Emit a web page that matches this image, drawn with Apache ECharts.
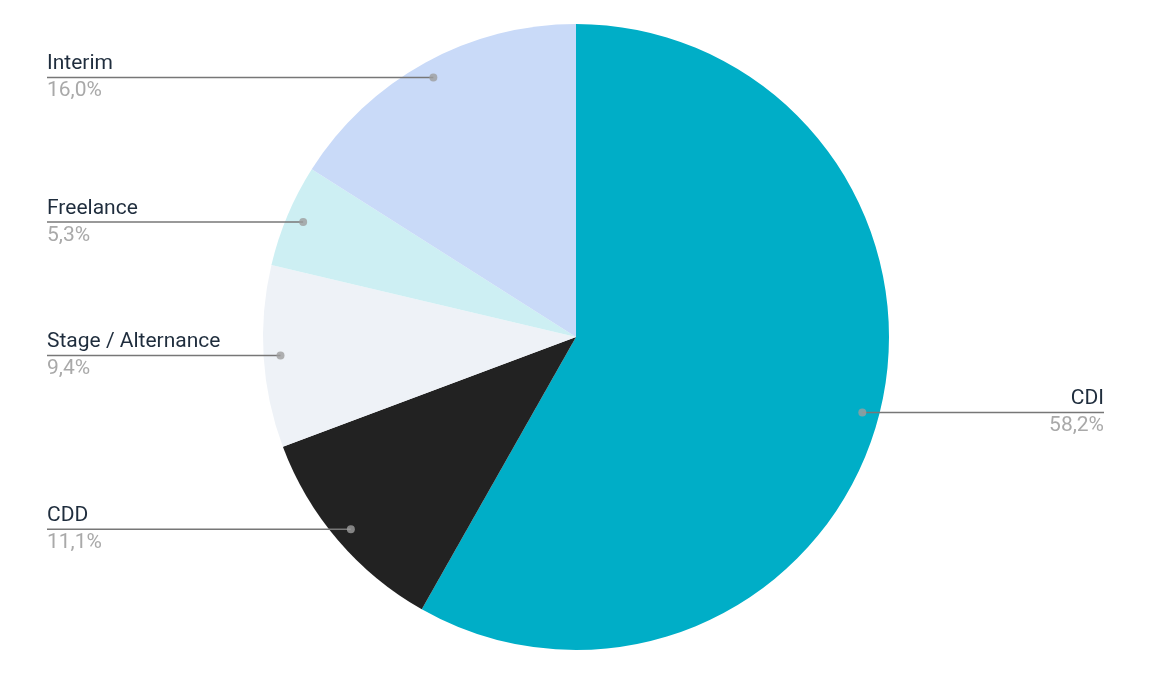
<!DOCTYPE html>
<html>
<head>
<meta charset="utf-8">
<script src="https://cdn.jsdelivr.net/npm/echarts@6/dist/echarts.min.js"></script>
<style>html,body{margin:0;padding:0;background:#fff}#c{width:1156px;height:677px}</style>
</head>
<body>
<div id="c"></div>
<script>
const categories = ['CDI', 'CDD', 'Stage / Alternance', 'Freelance', 'Interim'];
const values = [58.2, 11.1, 9.4, 5.3, 16.0];
const colors = ['#00AEC7', '#222222', '#EEF2F7', '#CDEFF3', '#C9DAF8'];

const CENTER = [576, 337];
const RADIUS = 313;
const DOT_FRAC = 0.946;
const LEFT_EDGE = 47, RIGHT_EDGE = 1104;

const fmt = v => v.toFixed(1).replace('.', ',') + '%';
const total = values.reduce((a, b) => a + b, 0);
let acc = 0;
const dotData = values.map(v => { const mid = acc + v / 2; acc += v; return [DOT_FRAC, mid / total * 100]; });

const chart = echarts.init(document.getElementById('c'), null, {renderer: 'canvas'});
const pieData = categories.map((n, i) => ({name: n, value: values[i], itemStyle: {color: colors[i]}}));

chart.setOption({
  animation: false,
  textStyle: {fontFamily: 'Roboto'},
  polar: {center: CENTER, radius: RADIUS},
  angleAxis: {type: 'value', min: 0, max: 100, startAngle: 90, clockwise: true, show: false},
  radiusAxis: {type: 'value', min: 0, max: 1, show: false},
  series: [
    {
      type: 'pie', center: CENTER, radius: RADIUS, startAngle: 90, clockwise: true,
      silent: true, label: {show: false}, labelLine: {show: false}, z: 1,
      data: pieData
    },
    {
      type: 'pie', center: CENTER, radius: RADIUS * DOT_FRAC, startAngle: 90, clockwise: true,
      silent: true, avoidLabelOverlap: false, z: 5,
      itemStyle: {color: 'rgba(0,0,0,0)'},
      data: categories.map((n, i) => ({name: n, value: values[i], itemStyle: {color: 'rgba(0,0,0,0)'}})),
      label: {
        show: true, position: 'outside', alignTo: 'edge', edgeDistance: LEFT_EDGE,
        formatter: p => '{n|' + p.name + '}\n{p|' + fmt(values[p.dataIndex]) + '}',
        rich: {
          n: {fontFamily: 'Roboto', fontSize: 21, color: '#1F2D3D', lineHeight: 27},
          p: {fontFamily: 'Roboto', fontSize: 21, color: '#A9A9A9', lineHeight: 27}
        }
      },
      labelLine: {show: true, length: 0, length2: 10, lineStyle: {color: '#777', width: 1.5}},
      labelLayout: function (params) {
        const pts = params.labelLinePoints;
        if (!pts) return {};
        const p0 = pts[0];
        const left = p0[0] < CENTER[0];
        const ex = left ? LEFT_EDGE : RIGHT_EDGE;
        return {
          x: ex, y: p0[1], align: left ? 'left' : 'right', verticalAlign: 'middle',
          labelLinePoints: [[p0[0], p0[1]], [ex, p0[1]]]
        };
      }
    },
    {
      type: 'scatter', coordinateSystem: 'polar', silent: true, z: 10,
      symbol: 'circle', symbolSize: 8, itemStyle: {color: '#9E9E9E'},
      data: dotData
    }
  ]
});
</script>
</body>
</html>
